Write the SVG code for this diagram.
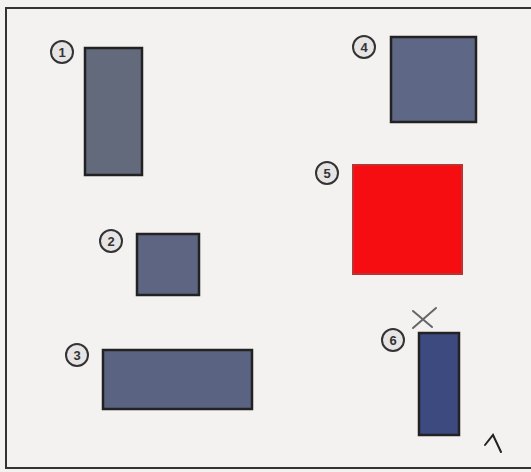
<svg xmlns="http://www.w3.org/2000/svg" width="531" height="472" viewBox="0 0 531 472">
<style>
.b{stroke:#222;stroke-width:2.5}
.c{fill:#e6e4e4;stroke:#333;stroke-width:2}
.t{font-family:"Liberation Sans",Arial,sans-serif;font-size:13px;font-weight:bold;fill:#333;text-anchor:middle}
</style>
<rect x="0" y="0" width="531" height="472" fill="#f4f1f1"/>
<rect x="6" y="8" width="530" height="460" fill="none" stroke="#333" stroke-width="2"/>
<g id="n1"><rect class="b" x="85" y="48" width="57" height="127" fill="#636a7b"/><circle class="c" cx="62" cy="52" r="11"/><text class="t" x="62" y="57">1</text></g>
<g id="n2"><rect class="b" x="137" y="234" width="62" height="61" fill="#5e6582"/><circle class="c" cx="111" cy="241" r="11"/><text class="t" x="111" y="246">2</text></g>
<g id="n3"><rect class="b" x="103" y="350" width="149" height="59" fill="#5b6382"/><circle class="c" cx="77" cy="355" r="11"/><text class="t" x="77" y="360">3</text></g>
<g id="n4"><rect class="b" x="391" y="37" width="85" height="85" fill="#5e6785"/><circle class="c" cx="364" cy="47" r="11"/><text class="t" x="364" y="52">4</text></g>
<g id="n5"><rect x="353" y="165" width="109" height="109" fill="#f50d12" stroke="#b33" stroke-width="2"/><circle class="c" cx="327" cy="173" r="11"/><text class="t" x="327" y="178">5</text></g>
<g id="n6"><rect class="b" x="419" y="333" width="40" height="102" fill="#3c4a80"/><circle class="c" cx="393" cy="340" r="11"/><text class="t" x="393" y="345">6</text></g>
<g id="marks" fill="none" stroke="#666" stroke-width="2" stroke-linecap="round">
<path d="M413 311 L432 327 M436 308 L413 328"/>
<path d="M485 445 L493 435 L501 452" stroke="#222"/>
</g>
</svg>
